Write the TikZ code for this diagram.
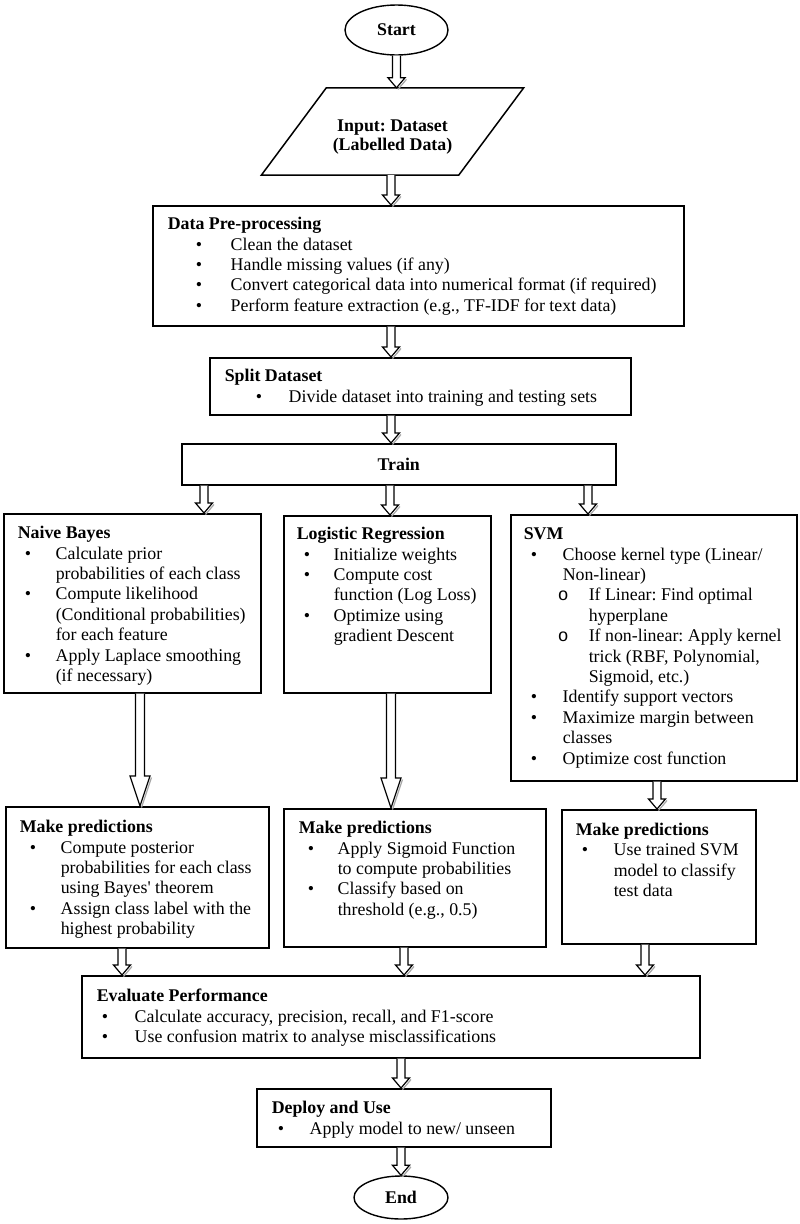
\documentclass[tikz,border=0pt]{standalone}
\usepackage{fontspec}
\setmainfont{Liberation Serif}[Ligatures=TeXOff]
\newfontfamily\monof{Liberation Mono}
\frenchspacing
\usetikzlibrary{calc,shapes.geometric}
\tikzset{
  x=1pt, y=-1pt,
  box/.style={draw, line width=1.5pt, inner sep=0pt, anchor=north west,
    font=\fontsize{17.85}{20.4}\selectfont},
  oval/.style={draw, ellipse, line width=1.4pt, inner sep=0pt,
    font=\fontsize{17.85}{20.4}\selectfont\bfseries},
  arr/.style={draw, line width=1.2pt, line join=miter, fill=white},
  arrshadow/.style={draw=black!35, line width=1.2pt, line join=miter},
}
% box content: width, height, top space, lines
\newcommand\bx[4]{\begin{minipage}[t][#2pt][t]{#1pt}\frenchspacing\setlength\parindent{0pt}\vspace*{#3pt}#4\end{minipage}}
\newcommand\mtitle[2]{\noindent\rule{0pt}{14pt}\hspace*{#1pt}\textbf{#2}\par}
\newcommand\mbul[3]{\noindent\rule{0pt}{14pt}\hspace*{#1pt}\makebox[0pt][l]{•}\hspace*{\dimexpr#2pt-#1pt\relax}#3\par}
\newcommand\msub[3]{\noindent\rule{0pt}{14pt}\hspace*{#1pt}\makebox[0pt][l]{\monof o}\hspace*{\dimexpr#2pt-#1pt\relax}#3\par}
\newcommand\mcont[2]{\noindent\rule{0pt}{14pt}\hspace*{#1pt}#2\par}
% hollow block arrow: from, to, shaft half width, head half width, head length
\newcommand\harrow[5]{%
  \draw[arrshadow] let \p1=#1, \p2=#2 in
  (\x1+#4+1.5pt,\y2+#5-1.5pt) -- (\x1+1.5pt,\y2-1.5pt);
  \draw[arr] let \p1=#1, \p2=#2 in
  (\x1-#3,\y1) -- (\x1-#3,\y2+#5) -- (\x1-#4,\y2+#5) -- (\x1,\y2) --
  (\x1+#4,\y2+#5) -- (\x1+#3,\y2+#5) -- (\x1+#3,\y1);}
\begin{document}
\begin{tikzpicture}
\useasboundingbox (0,0) rectangle (800,1224);

% arrow columns
\coordinate (c122) at (122,0);
\coordinate (c140) at (140,0);
\coordinate (c204) at (204,0);
\coordinate (c390) at (390,0);
\coordinate (c391) at (391,0);
\coordinate (c401) at (401,0);
\coordinate (c404) at (404,0);
\coordinate (c588) at (588,0);
\coordinate (c645) at (645,0);
\coordinate (c657) at (657,0);

\node[oval, minimum width=103pt, minimum height=50pt] (start) at (396.5,30) {Start};

\node[inner sep=0pt, minimum width=197pt, minimum height=87pt, align=center,
  font=\fontsize{17.85}{18.5}\selectfont\bfseries] (input) at (392.5,131.5)
  {\rule{0pt}{23pt}Input: Dataset\\(Labelled Data)};
\draw[line width=1.5pt, line join=miter]
  ([xshift=32.5pt]input.north west) -- ([xshift=32.5pt]input.north east) --
  ([xshift=-32.5pt]input.south east) -- ([xshift=-32.5pt]input.south west) -- cycle;

\node[box] (pre) at (152,205) {\bx{531}{120}{10}{%
  \mtitle{15}{Data Pre-processing}
  \mbul{43}{78}{Clean the dataset}
  \mbul{43}{78}{Handle missing values (if any)}
  \mbul{43}{78}{Convert categorical data into numerical format (if required)}
  \mbul{43}{78}{Perform feature extraction (e.g., TF-IDF for text data)}}};

\node[box] (split) at (209,357) {\bx{421}{57}{10}{%
  \mtitle{15}{Split Dataset}
  \mbul{46}{79}{Divide dataset into training and testing sets}}};

\node[box, minimum width=434pt, minimum height=41pt,
  font=\fontsize{17.85}{20.4}\selectfont\bfseries] (train) at (181,443) {Train};

\node[box] (nb) at (3,513) {\bx{257}{179}{11}{%
  \mtitle{14}{Naive Bayes}
  \mbul{21}{52}{Calculate prior}
  \mcont{52}{probabilities of each class}
  \mbul{21}{52}{Compute likelihood}
  \mcont{52}{(Conditional probabilities)}
  \mcont{52}{for each feature}
  \mbul{21}{52}{Apply Laplace smoothing}
  \mcont{52}{(if necessary)}}};

\node[box] (lr) at (283,515) {\bx{207}{177}{10}{%
  \mtitle{13}{Logistic Regression}
  \mbul{20}{50}{Initialize weights}
  \mbul{20}{50}{Compute cost}
  \mcont{50}{function (Log Loss)}
  \mbul{20}{50}{Optimize using}
  \mcont{50}{gradient Descent}}};

\node[box] (svm) at (510,514) {\bx{286}{266}{11}{%
  \mtitle{13}{SVM}
  \mbul{20}{52}{Choose kernel type (Linear/}
  \mcont{52}{Non-linear)}
  \msub{47}{78}{If Linear: Find optimal}
  \mcont{78}{hyperplane}
  \msub{47}{78}{If non-linear: Apply kernel}
  \mcont{78}{trick (RBF, Polynomial,}
  \mcont{78}{Sigmoid, etc.)}
  \mbul{20}{52}{Identify support vectors}
  \mbul{20}{52}{Maximize margin between}
  \mcont{52}{classes}
  \mbul{20}{52}{Optimize cost function}}};

\node[box] (mpnb) at (5,806) {\bx{263}{141}{12}{%
  \mtitle{14}{Make predictions}
  \mbul{24}{55}{Compute posterior}
  \mcont{55}{probabilities for each class}
  \mcont{55}{using Bayes' theorem}
  \mbul{24}{55}{Assign class label with the}
  \mcont{55}{highest probability}}};

\node[box] (mplr) at (283,808) {\bx{262}{138}{11}{%
  \mtitle{15}{Make predictions}
  \mbul{24}{54}{Apply Sigmoid Function}
  \mcont{54}{to compute probabilities}
  \mbul{24}{54}{Classify based on}
  \mcont{54}{threshold (e.g., 0.5)}}};

\node[box] (mpsvm) at (561,809) {\bx{194}{134}{11.5}{%
  \mtitle{14}{Make predictions}
  \mbul{20}{52}{Use trained SVM}
  \mcont{52}{model to classify}
  \mcont{52}{test data}}};

\node[box] (eval) at (81,975) {\bx{618}{82}{12}{%
  \mtitle{15}{Evaluate Performance}
  \mbul{20}{53}{Calculate accuracy, precision, recall, and F1-score}
  \mbul{20}{53}{Use confusion matrix to analyse misclassifications}}};

\node[box] (deploy) at (256,1088) {\bx{294}{58}{11}{%
  \mtitle{15}{Deploy and Use}
  \mbul{21}{53}{Apply model to new/ unseen}}};

\node[oval, minimum width=94pt, minimum height=43pt] (end) at (401,1197.5) {End};

% connectors
\harrow{(start.south)}{(start.south |- input.north)}{4pt}{8.5pt}{10pt}
\harrow{(input.south -| c391)}{(pre.north -| c391)}{4pt}{8.5pt}{10pt}
\harrow{(pre.south -| c391)}{(split.north -| c391)}{4pt}{8.5pt}{10pt}
\harrow{(split.south -| c391)}{(train.north -| c391)}{4pt}{8.5pt}{10pt}
\harrow{(train.south -| c204)}{(nb.north -| c204)}{4pt}{8.5pt}{10pt}
\harrow{(train.south -| c390)}{(lr.north -| c390)}{4pt}{8.5pt}{10pt}
\harrow{(train.south -| c588)}{(svm.north -| c588)}{4pt}{8.5pt}{10pt}
\harrow{(nb.south -| c140)}{(mpnb.north -| c140)}{4.5pt}{10pt}{30pt}
\harrow{(lr.south -| c391)}{(mplr.north -| c391)}{4.5pt}{10pt}{30pt}
\harrow{(svm.south -| c657)}{(mpsvm.north -| c657)}{4pt}{8.5pt}{10pt}
\harrow{(mpnb.south -| c122)}{(eval.north -| c122)}{4pt}{8.5pt}{10pt}
\harrow{(mplr.south -| c404)}{(eval.north -| c404)}{4pt}{8.5pt}{10pt}
\harrow{(mpsvm.south -| c645)}{(eval.north -| c645)}{4pt}{8.5pt}{10pt}
\harrow{(eval.south -| c401)}{(deploy.north -| c401)}{4pt}{8.5pt}{10pt}
\harrow{(deploy.south -| c401)}{(end.north)}{4pt}{8.5pt}{10pt}
\end{tikzpicture}
\end{document}
